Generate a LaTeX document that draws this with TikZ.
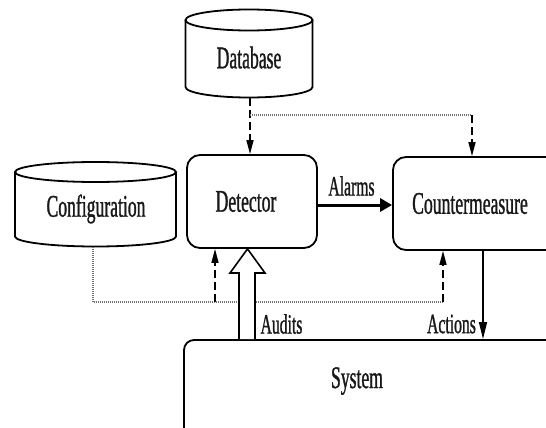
\documentclass[tikz,border=0pt]{standalone}
\usepackage{fontspec}
\setmainfont{Liberation Serif}[FakeStretch=0.56,FakeBold=1]
\usetikzlibrary{arrows.meta,calc}

\tikzset{
  boxtext/.style={font=\fontsize{31.5}{36}\selectfont, text=black!90, inner sep=0pt},
  labeltext/.style={font=\fontsize{28}{32}\selectfont, text=black!90, inner sep=0pt},
  roundbox/.style={draw, line width=1.8pt, rounded corners=13pt, boxtext},
  cylline/.style={draw, line width=1.8pt},
  dasharrow/.style={line width=1.5pt, dash pattern=on 8pt off 4pt,
    -{Triangle[length=14pt,width=7pt]}},
  dotline/.style={line width=1.2pt, black!55, dash pattern=on 1pt off 1pt},
  alarmarrow/.style={line width=3pt, -{Triangle[length=12pt,width=13pt]}},
  actionarrow/.style={line width=1.2pt, -{Triangle[length=17pt,width=8pt]}},
  hollowarrow/.style={draw, line width=1.6pt, fill=white, line join=miter},
}

\begin{document}
\begin{tikzpicture}[x=1pt,y=-1pt]
\useasboundingbox (0,0) rectangle (546,428);
\clip (0,0) rectangle (546,428);

% storage cylinders
\draw[cylline] (185.5,20) -- (185.5,87)
  arc[start angle=180,end angle=360,x radius=63.5pt,y radius=10.5pt] -- (312.5,20);
\draw[cylline] (249,20) ellipse[x radius=63.5pt,y radius=10.5pt];
\node[boxtext] (db) at (249,57.5) {Database};
\coordinate (dbbot) at (250,97.5);
\coordinate (dbsplit) at (250,115);
\coordinate (cmin) at (472,115);

\draw[cylline] (15,172) -- (15,236.5)
  arc[start angle=180,end angle=360,x radius=80.5pt,y radius=10pt] -- (176,172);
\draw[cylline] (95.5,172) ellipse[x radius=80.5pt,y radius=10pt];
\node[boxtext] (cfg) at (96,209) {Configuration};
\coordinate (cfgbot) at (93,246.5);
\coordinate (cfgbus) at (443,302);
\coordinate (detin) at (215,302);

% processing blocks
\node[roundbox, minimum width=130pt, minimum height=93pt] (det) at (252,201.5)
  {\hspace*{-12pt}Detector};
\node[roundbox, minimum width=207pt, minimum height=93pt] (cm) at (496.5,203.5)
  {\hspace*{-53pt}Countermeasure};
\node[roundbox, rounded corners=10pt, minimum width=390pt, minimum height=110pt] (sys)
  at (379,395) {};
\node[boxtext] (systxt) at (357,381) {System};

% data flows
\draw[dasharrow] (dbbot) -- (dbbot |- det.north);
\draw[dotline] (dbsplit) -- (cmin);
\draw[dasharrow] (cmin) -- (cmin |- cm.north);

\draw[dotline] (cfgbot) |- (cfgbus);
\draw[dasharrow] (cfgbus) -- (cfgbus |- cm.south);
\draw[dasharrow] (detin) -- (detin |- det.south);

\draw[alarmarrow] ([yshift=-3.5pt]det.east) -- ([yshift=-1.5pt]cm.west);
\node[labeltext] (alarms) at (351.5,186) {Alarms};

\draw[actionarrow] (483,0 |- cm.south) -- (483,0 |- sys.north);
\node[labeltext] (actions) at (451.5,324) {Actions};

\draw[hollowarrow] (239,0 |- sys.north) -- (239,273) -- (230,273)
  -- (247.5,0 |- det.south) -- (265,273) -- (255,273) -- (255,0 |- sys.north);
\node[labeltext] (audits) at (281.5,324) {Audits};
\end{tikzpicture}
\end{document}
